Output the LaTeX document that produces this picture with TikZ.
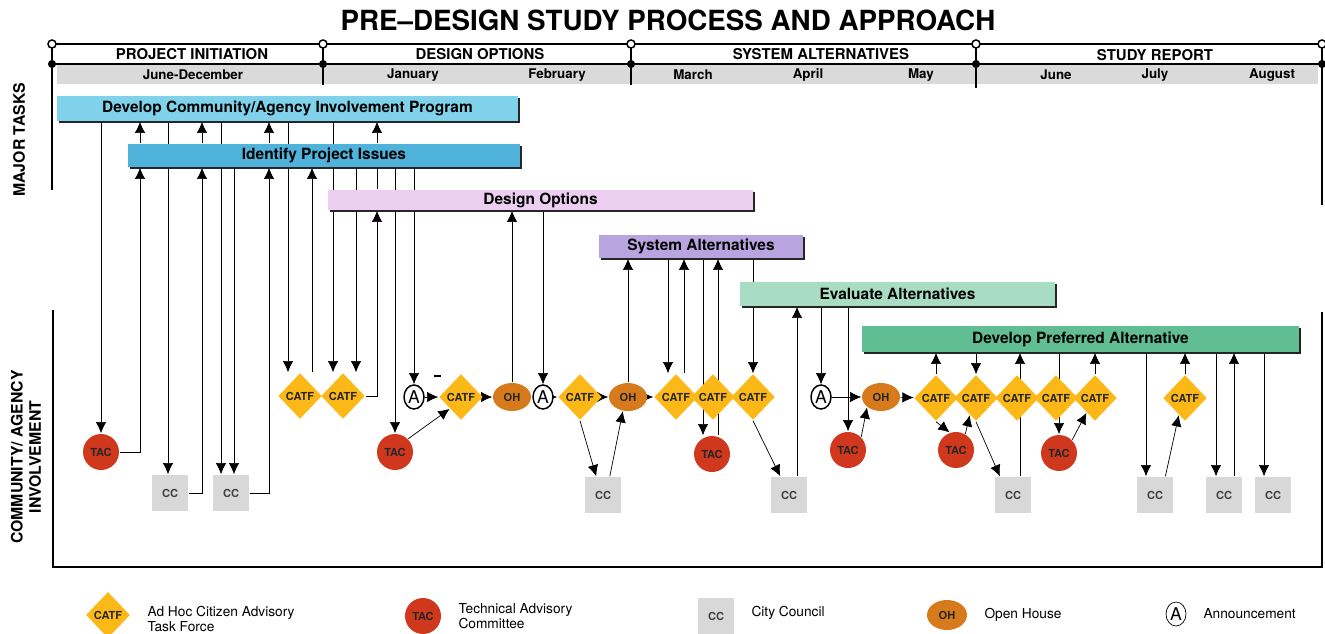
\documentclass[tikz,border=0pt]{standalone}
\usepackage{fontspec}
\setmainfont{TeX Gyre Heros}
\usepackage{xcolor}
\usepackage{tikz}
\usetikzlibrary{shapes.geometric,arrows.meta,positioning,shadows}

\definecolor{dcaipcol}{RGB}{128,210,234}
\definecolor{ipicol}{RGB}{78,178,218}
\definecolor{doptcol}{RGB}{236,206,240}
\definecolor{saltcol}{RGB}{184,164,222}
\definecolor{evalcol}{RGB}{168,221,195}
\definecolor{dpacol}{RGB}{96,190,146}
\definecolor{catfcol}{RGB}{252,184,22}
\definecolor{taccol}{RGB}{208,56,30}
\definecolor{ohcol}{RGB}{214,122,28}
\definecolor{cccol}{RGB}{216,216,216}
\definecolor{bandcol}{RGB}{218,218,218}

\pgfdeclarelayer{bg}
\pgfsetlayers{bg,main}

\begin{document}
\begin{tikzpicture}[x=0.02cm, y=-0.02cm, line width=0.85pt,
    flow/.style={draw, -{Latex[length=6.4pt, width=6pt]}},
    link/.style={draw},
    taskbar/.style={rectangle, inner sep=0pt, font=\bfseries\fontsize{8.8}{10}\selectfont,
        general shadow={fill=black!85, shadow xshift=1.1pt, shadow yshift=-1.1pt}},
    symtext/.style={font=\bfseries\fontsize{6.3}{7}\selectfont, text=black!85},
    catf/.style={diamond, fill=catfcol, minimum width=0.88cm, minimum height=0.92cm, inner sep=0pt, symtext},
    tac/.style={circle, fill=taccol, minimum size=0.72cm, inner sep=0pt, symtext},
    oh/.style={ellipse, fill=ohcol, minimum width=0.76cm, minimum height=0.56cm, inner sep=0pt, symtext},
    cc/.style={rectangle, fill=cccol, minimum size=0.72cm, inner sep=0pt, symtext, text=black!75},
    ann/.style={ellipse, draw, fill=white, minimum width=0.4cm, minimum height=0.48cm, inner sep=0pt, font=\fontsize{10}{10}\selectfont},
    phase/.style={font=\bfseries\fontsize{8.5}{9}\selectfont},
    month/.style={font=\bfseries\fontsize{7.6}{8}\selectfont},
    side/.style={rotate=90, align=center, font=\bfseries\fontsize{9}{10.3}\selectfont},
    legtext/.style={font=\fontsize{7.8}{8.5}\selectfont, align=left}]
    \useasboundingbox (0,0) rectangle (1325,633);

    \node[font=\bfseries\fontsize{15.8}{18}\selectfont] (title) at (668,20) {PRE–DESIGN STUDY PROCESS AND APPROACH};

    % time scale
    \fill[bandcol] (57,65) rectangle (1318,84);
    \draw (52,44) -- (1322,44);
    \draw (52,64) -- (1322,64);
    \draw (52,44) -- (52,190);
    \draw (1322,44) -- (1322,205);
    \foreach \x/\e in {323/85, 631/85, 976/88}
        \draw (\x,44) -- (\x,\e);
    \foreach \x in {52,323,631,976,1322} {
        \fill (\x,64) circle[radius=2.3pt];
        \filldraw[fill=white] (\x,44) circle[radius=2.3pt];
    }
    \node[phase] (phinit) at (192,54) {PROJECT INITIATION};
    \node[phase] (phopt) at (480,54) {DESIGN OPTIONS};
    \node[phase] (phalt) at (821,54) {SYSTEM ALTERNATIVES};
    \node[phase] (phrep) at (1155,55) {STUDY REPORT};
    \node[month] (mjd) at (193,75) {June-December};
    \node[month] (mjan) at (413,75) {January};
    \node[month] (mfeb) at (557,75) {February};
    \node[month] (mmar) at (693,75) {March};
    \node[month] (mapr) at (808,75) {April};
    \node[month] (mmay) at (921,75) {May};
    \node[month] (mjun) at (1056,75) {June};
    \node[month] (mjul) at (1155,75) {July};
    \node[month] (maug) at (1272,75) {August};

    \node[side] (major) at (19,140) {MAJOR TASKS};
    \node[side] (commun) at (26,457) {COMMUNITY/ AGENCY\\INVOLVEMENT};
    \draw (53,310) -- (53,567) -- (1322,567) -- (1322,312);

    % major tasks
    \node[taskbar, fill=dcaipcol, minimum width=9.22cm, minimum height=0.5cm] (dcaip) at (287.5,108.5) {Develop Community/Agency Involvement Program};
    \node[taskbar, fill=ipicol, minimum width=7.84cm, minimum height=0.46cm] (ipi) at (324,155.5) {Identify Project Issues};
    \node[taskbar, fill=doptcol, minimum width=8.5cm, minimum height=0.4cm] (dopt) at (540.5,200) {Design Options};
    \node[taskbar, fill=saltcol, minimum width=4.08cm, minimum height=0.46cm] (salt) at (701,246.5) {System Alternatives};
    \node[taskbar, fill=evalcol, minimum width=6.3cm, minimum height=0.48cm] (evalt) at (897.5,294) {Evaluate Alternatives};
    \node[taskbar, fill=dpacol, minimum width=8.74cm, minimum height=0.52cm] (dpa) at (1080.5,339) {Develop Preferred Alternative};

    % involvement
    \node[tac] (tacA) at (101,452) {TAC};
    \node[cc] (ccA) at (170,493) {CC};
    \node[cc] (ccB) at (231,493) {CC};
    \node[catf] (catfA) at (300,396) {CATF};
    \node[catf] (catfB) at (343,396) {CATF};
    \node[ann] (aA) at (414,397) {A};
    \node[tac] (tacB) at (395,452) {TAC};
    \node[catf] (catfC) at (461,397) {CATF};
    \node[oh] (ohA) at (512,397) {OH};
    \node[ann] (aB) at (543,397) {A};
    \node[catf] (catfD) at (580,397) {CATF};
    \node[oh] (ohB) at (628,397) {OH};
    \node[cc] (ccC) at (603,495) {CC};
    \node[catf] (catfE) at (676,397) {CATF};
    \node[catf] (catfF) at (713,397) {CATF};
    \node[catf] (catfG) at (753,397) {CATF};
    \node[tac] (tacC) at (712,454) {TAC};
    \node[cc] (ccD) at (789,495) {CC};
    \node[ann] (aC) at (821,397) {A};
    \node[tac] (tacD) at (848,450) {TAC};
    \node[oh] (ohC) at (881,397) {OH};
    \node[catf] (catfH) at (936,398) {CATF};
    \node[catf] (catfI) at (976,398) {CATF};
    \node[catf] (catfJ) at (1017,398) {CATF};
    \node[catf] (catfK) at (1056,398) {CATF};
    \node[catf] (catfL) at (1095,398) {CATF};
    \node[catf] (catfM) at (1185,398) {CATF};
    \node[tac] (tacE) at (956,450) {TAC};
    \node[tac] (tacF) at (1059,453) {TAC};
    \node[cc] (ccE) at (1013,495) {CC};
    \node[cc] (ccF) at (1155,495) {CC};
    \node[cc] (ccG) at (1224,495) {CC};
    \node[cc] (ccH) at (1273,495) {CC};
    \draw[line width=1.5pt] (434,376) -- (441,376);

    \begin{pgfonlayer}{bg}
    \draw[flow] (101,0 |- dcaip.south) -- (tacA.north);
    \draw[flow] (tacA.east) -| (140,0 |- ipi.south);
    \draw[flow] (140,0 |- ipi.north) -- (140,0 |- dcaip.south);
    \draw[flow] (168,0 |- dcaip.south) -- (168,0 |- ccA.north);
    \draw[flow] (ccA.east) -| (202,0 |- ipi.south);
    \draw[flow] (202,0 |- ipi.north) -- (202,0 |- dcaip.south);
    \draw[flow] (221,0 |- dcaip.south) -- (221,0 |- ccB.north);
    \draw[flow] (234,0 |- ipi.south) -- (234,0 |- ccB.north);
    \draw[flow] (ccB.east) -| (269,0 |- ipi.south);
    \draw[flow] (269,0 |- ipi.north) -- (269,0 |- dcaip.south);
    \draw[flow] (288,0 |- dcaip.south) -- (288,0 |- catfA.north);
    \draw[flow] (312,0 |- catfA.north) -- (312,0 |- ipi.south);
    \draw[flow] (333,0 |- dcaip.south) -- (333,0 |- catfB.north);
    \draw[flow] (356,0 |- ipi.south) -- (356,0 |- catfB.north);
    \draw[flow] (catfB.east) -| (377,0 |- dopt.south);
    \draw[link] (377,0 |- dopt.north) -- (377,0 |- ipi.south);
    \draw[flow] (377,0 |- ipi.north) -- (377,0 |- dcaip.south);
    \draw[flow] (395,0 |- ipi.south) -- (tacB.north);
    \draw[flow] (aA |- ipi.south) -- (aA.north);

    \draw[flow] (aA) -- (catfC);
    \draw[flow] (tacB.north east) -- (catfC.south west);
    \draw[flow] (catfC) -- (ohA);
    \draw[flow] (ohA.north) -- (ohA |- dopt.south);
    \draw[flow] (aB |- dopt.south) -- (aB.north);
    \draw[flow] (aB) -- (catfD);
    \draw[flow] (catfD) -- (ohB);
    \draw[flow] (catfD.south) -- (ccC.110);
    \draw[flow] (ccC.70) -- (ohB.250);
    \draw[flow] (ohB.north) -- (ohB |- salt.south);
    \draw[flow] (ohB) -- (catfE);

    \draw[flow] (668,0 |- salt.south) -- (668,0 |- catfE.north);
    \draw[flow] (684,0 |- catfE.north) -- (684,0 |- salt.south);
    \draw[flow] (703,0 |- salt.south) -- (703,0 |- tacC.north);
    \draw[flow] (718,0 |- tacC.north) -- (718,0 |- salt.south);
    \draw[flow] (catfG |- salt.south) -- (catfG.north);
    \draw[flow] (catfG.south) -- (ccD.115);
    \draw[flow] (797,0 |- ccD.north) -- (797,0 |- evalt.south);

    \draw[flow] (aC |- evalt.south) -- (aC.north);
    \draw[flow] (tacD |- evalt.south) -- (tacD.north);
    \draw[flow] (aC) -- (ohC);
    \draw[flow] (tacD.north east) -- (ohC.south west);
    \draw[flow] (ohC) -- (catfH);

    \draw[flow] (catfH.north) -- (catfH |- dpa.south);
    \draw[flow] (catfI |- dpa.south) -- (catfI.north);
    \draw[flow] (catfH.south) -- (tacE.110);
    \draw[flow] (tacE.60) -- (catfI.250);
    \draw[flow] (catfI.south) -- (ccE.125);
    \draw[flow] (1020,0 |- ccE.north) -- (1020,0 |- dpa.south);
    \draw[flow] (tacF |- dpa.south) -- (tacF.north);
    \draw[flow] (tacF.north east) -- (catfL.240);
    \draw[flow] (catfL.north) -- (catfL |- dpa.south);
    \draw[flow] (1146,0 |- dpa.south) -- (1146,0 |- ccF.north);
    \draw[flow] (ccF.61) -- (catfM.250);
    \draw[flow] (catfM.north) -- (catfM |- dpa.south);
    \draw[flow] (1216,0 |- dpa.south) -- (1216,0 |- ccG.north);
    \draw[flow] (1234,0 |- ccG.north) -- (1234,0 |- dpa.south);
    \draw[flow] (1264,0 |- dpa.south) -- (1264,0 |- ccH.north);
    \end{pgfonlayer}

    % legend
    \node[catf] (lgcatf) at (108,615) {CATF};
    \node[legtext, right=0.22cm of lgcatf, yshift=-2pt] (lgcatft) {Ad Hoc Citizen Advisory\\Task Force};
    \node[tac] (lgtac) at (423,616) {TAC};
    \node[legtext, right=0.22cm of lgtac] (lgtact) {Technical Advisory\\Committee};
    \node[cc] (lgcc) at (716,616) {CC};
    \node[legtext, right=0.22cm of lgcc, yshift=2pt] (lgcct) {City Council};
    \node[oh, minimum width=0.8cm, minimum height=0.6cm] (lgoh) at (947,615) {OH};
    \node[legtext, right=0.22cm of lgoh] (lgoht) {Open House};
    \node[ann] (lga) at (1176,614) {A};
    \node[legtext, right=0.22cm of lga] (lgat) {Announcement};
\end{tikzpicture}
\end{document}
